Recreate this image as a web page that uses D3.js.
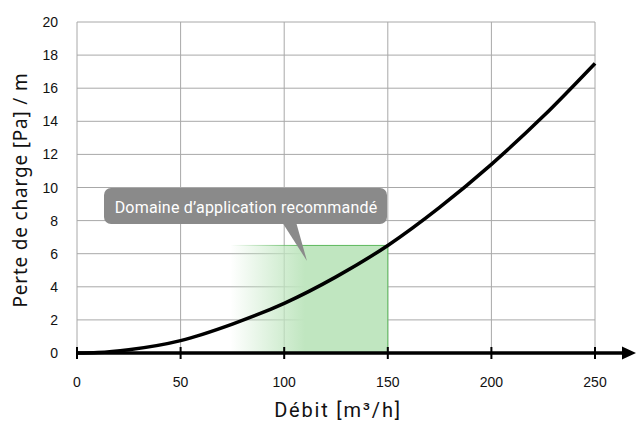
<!DOCTYPE html>
<html>
<head>
<meta charset="utf-8">
<script src="https://cdn.jsdelivr.net/npm/d3@7"></script>
<style>
  body { margin: 0; background: #fff; }
  svg { display: block; }
</style>
</head>
<body>
<div id="chart"></div>
<script>
// chart data
const FLOW = [0, 10, 25, 50, 75, 100, 125, 150, 175, 200, 225, 250];
const LOSS = [0, 0.03, 0.2, 0.75, 1.75, 3.0, 4.6, 6.5, 8.8, 11.4, 14.3, 17.5];
const X_TICKS = [0, 50, 100, 150, 200, 250];
const Y_TICKS = [0, 2, 4, 6, 8, 10, 12, 14, 16, 18, 20];
const ZONE = {from: 74, full: 110, to: 150, top: 6.5};
const ZONE_LABEL = "Domaine d\u2019application recommandé";

const FRAME_WIDTH = 636;
const FRAME_HEIGHT = 421;
const MARGINS = {left: 77, right: 41, top: 22, bottom: 68};

const FRAME = d3.select("#chart")
  .append("svg")
    .attr("width", FRAME_WIDTH)
    .attr("height", FRAME_HEIGHT);

const xSCALE = d3.scaleLinear()
  .domain([0, 250])
  .range([MARGINS.left, FRAME_WIDTH - MARGINS.right]);

const ySCALE = d3.scaleLinear()
  .domain([0, 20])
  .range([FRAME_HEIGHT - MARGINS.bottom, MARGINS.top]);

// gradient for the recommended zone
const defs = FRAME.append("defs");
const grad = defs.append("linearGradient")
  .attr("id", "zoneGrad")
  .attr("gradientUnits", "userSpaceOnUse")
  .attr("x1", xSCALE(ZONE.from)).attr("x2", xSCALE(ZONE.full))
  .attr("y1", 0).attr("y2", 0);
grad.append("stop").attr("offset", 0).attr("stop-color", "#c0e6c0").attr("stop-opacity", 0);
grad.append("stop").attr("offset", 1).attr("stop-color", "#c0e6c0").attr("stop-opacity", 1);

const gradLine = defs.append("linearGradient")
  .attr("id", "zoneLine")
  .attr("gradientUnits", "userSpaceOnUse")
  .attr("x1", xSCALE(ZONE.from)).attr("x2", xSCALE(ZONE.full))
  .attr("y1", 0).attr("y2", 0);
gradLine.append("stop").attr("offset", 0).attr("stop-color", "#5cb85c").attr("stop-opacity", 0);
gradLine.append("stop").attr("offset", 1).attr("stop-color", "#5cb85c").attr("stop-opacity", 1);

// grid
FRAME.append("g")
  .selectAll("line")
  .data(Y_TICKS.filter(d => d > 0))
  .enter().append("line")
    .attr("x1", xSCALE(0)).attr("x2", xSCALE(250))
    .attr("y1", d => ySCALE(d)).attr("y2", d => ySCALE(d))
    .attr("stroke", "#a8a8a8").attr("stroke-width", 1);

FRAME.append("g")
  .selectAll("line")
  .data(X_TICKS)
  .enter().append("line")
    .attr("x1", d => xSCALE(d)).attr("x2", d => xSCALE(d))
    .attr("y1", ySCALE(20)).attr("y2", ySCALE(0))
    .attr("stroke", "#a8a8a8").attr("stroke-width", 1);

// recommended zone
FRAME.append("rect")
  .attr("x", xSCALE(ZONE.from))
  .attr("y", ySCALE(ZONE.top))
  .attr("width", xSCALE(ZONE.to) - xSCALE(ZONE.from))
  .attr("height", ySCALE(0) - ySCALE(ZONE.top))
  .attr("fill", "url(#zoneGrad)");

FRAME.append("path")
  .attr("d", "M" + xSCALE(ZONE.from) + "," + ySCALE(ZONE.top) +
             "H" + xSCALE(ZONE.to) + "V" + ySCALE(0))
  .attr("fill", "none")
  .attr("stroke", "url(#zoneLine)")
  .attr("stroke-width", 1);

// y tick labels
FRAME.append("g")
  .selectAll("text")
  .data(Y_TICKS)
  .enter().append("text")
    .attr("x", 58)
    .attr("y", d => ySCALE(d) + 5)
    .attr("text-anchor", "end")
    .attr("font-family", "Liberation Sans, Arial, sans-serif")
    .attr("font-size", "14px")
    .attr("fill", "#111")
    .text(d => d);

// x tick labels
FRAME.append("g")
  .selectAll("text")
  .data(X_TICKS)
  .enter().append("text")
    .attr("x", d => xSCALE(d))
    .attr("y", 387)
    .attr("text-anchor", "middle")
    .attr("font-family", "Liberation Sans, Arial, sans-serif")
    .attr("font-size", "14px")
    .attr("fill", "#111")
    .text(d => d);

// curve
const line = d3.line()
  .x((d, i) => xSCALE(FLOW[i]))
  .y(d => ySCALE(d))
  .curve(d3.curveMonotoneX);

FRAME.append("path")
  .datum(LOSS)
  .attr("d", line)
  .attr("fill", "none")
  .attr("stroke", "#000")
  .attr("stroke-width", 3.5);

// x axis with arrow
const y0 = ySCALE(0);
FRAME.append("line")
  .attr("x1", xSCALE(0)).attr("x2", 624)
  .attr("y1", y0).attr("y2", y0)
  .attr("stroke", "#000").attr("stroke-width", 3.5);

FRAME.append("path")
  .attr("d", "M622," + (y0 - 6.5) + "L636," + y0 + "L622," + (y0 + 6.5) + "Z")
  .attr("fill", "#000");

FRAME.append("g")
  .selectAll("line")
  .data(X_TICKS)
  .enter().append("line")
    .attr("x1", d => xSCALE(d)).attr("x2", d => xSCALE(d))
    .attr("y1", y0 - 6).attr("y2", y0 + 6)
    .attr("stroke", "#000").attr("stroke-width", 2);

// callout
const callout = FRAME.append("g");
callout.append("path")
  .attr("d", "M282,222 L307,261 L296,222 Z")
  .attr("fill", "#8a8a8a");
callout.append("rect")
  .attr("x", 104).attr("y", 188)
  .attr("width", 283).attr("height", 36)
  .attr("rx", 7)
  .attr("fill", "#8a8a8a");
callout.append("text")
  .attr("x", 246).attr("y", 213)
  .attr("text-anchor", "middle")
  .attr("font-family", "Roboto, sans-serif")
  .attr("font-size", "16px")
  .attr("letter-spacing", "0.2px")
  .attr("fill", "#fff")
  .text(ZONE_LABEL);

// axis titles
FRAME.append("text")
  .attr("transform", "translate(27,190) rotate(-90)")
  .attr("text-anchor", "middle")
  .attr("font-family", "Noto Sans, sans-serif")
  .attr("font-size", "19px")
  .attr("letter-spacing", "0.8px")
  .attr("fill", "#111")
  .text("Perte de charge [Pa] / m");

FRAME.append("text")
  .attr("x", 338).attr("y", 417)
  .attr("text-anchor", "middle")
  .attr("font-family", "Roboto, sans-serif")
  .attr("font-size", "20px")
  .attr("letter-spacing", "1.8px")
  .attr("fill", "#111")
  .text("Débit [m³/h]");
</script>
</body>
</html>
